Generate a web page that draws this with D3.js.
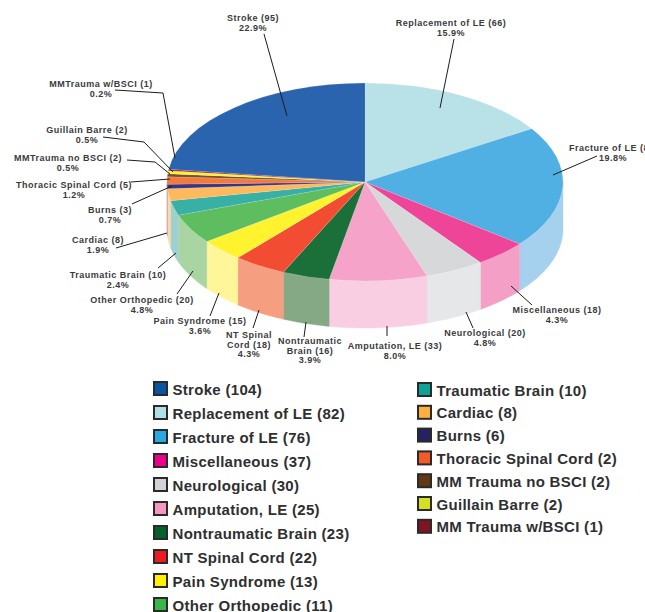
<!DOCTYPE html>
<html>

<head>
    <meta charset="utf-8">
    <style>
        body {
            margin: 0;
            background: #fff;
        }

        svg {
            display: block;
        }

        .slice-label {
            font: bold 9px "Liberation Sans", Arial, sans-serif;
            letter-spacing: .5px;
            fill: #3a3a3c;
            text-anchor: middle;
        }

        .legend-label {
            font: bold 15px "Liberation Sans", Arial, sans-serif;
            letter-spacing: .3px;
            fill: #2f2f31;
        }

        .leader {
            fill: none;
            stroke: #1c1c1c;
            stroke-width: 1px;
        }
    </style>
    <script src="https://d3js.org/d3.v7.min.js"></script>
    <title>Pie chart</title>
</head>

<body>
    <svg id="pie" width="645" height="612"></svg>
    <script>
        // slices, clockwise from 12 o'clock
        var sliceNames = ["Replacement of LE", "Fracture of LE", "Miscellaneous", "Neurological", "Amputation, LE",
            "Nontraumatic Brain", "NT Spinal Cord", "Pain Syndrome", "Other Orthopedic", "Traumatic Brain", "Cardiac",
            "Burns", "Thoracic Spinal Cord", "MMTrauma no BSCI", "Guillain Barre", "MMTrauma w/BSCI", "Stroke"];
        var sliceValues = [66, 82, 18, 20, 33, 16, 18, 15, 20, 10, 8, 3, 5, 2, 2, 1, 95];
        var slicePercents = ["15.9%", "19.8%", "4.3%", "4.8%", "8.0%", "3.9%", "4.3%", "3.6%", "4.8%", "2.4%", "1.9%",
            "0.7%", "1.2%", "0.5%", "0.5%", "0.2%", "22.9%"];
        var topColors = ["#b9e2e8", "#50b0e3", "#ee4599", "#d7d8da", "#f5a3c8", "#1a7038", "#f24c32", "#fff22e",
            "#5dbd5f", "#38b0a5", "#fdb95c", "#3a3480", "#f37a3e", "#7a4f24", "#fff22e", "#a6243a", "#2b64ae"];
        var wallColors = ["#d5eef2", "#a6d1ee", "#f49fc6", "#e6e7e9", "#f9cde2", "#84a984", "#f59e80", "#fff69a",
            "#a9d5a2", "#9fd0d0", "#fdd9a8", "#9b98c0", "#f9bc9e", "#bca790", "#fff69a", "#d2919c", "#95b1d6"];

        var legendLeftNames = ["Stroke (104)", "Replacement of LE (82)", "Fracture of LE (76)", "Miscellaneous (37)",
            "Neurological (30)", "Amputation, LE (25)", "Nontraumatic Brain (23)", "NT Spinal Cord (22)",
            "Pain Syndrome (13)", "Other Orthopedic (11)"];
        var legendLeftColors = ["#0a55a3", "#aedfe4", "#27aae1", "#ec008c", "#d1d3d4", "#f498c0", "#04602c", "#ed1c24",
            "#fff200", "#39b54a"];
        var legendRightNames = ["Traumatic Brain (10)", "Cardiac (8)", "Burns (6)", "Thoracic Spinal Cord (2)",
            "MM Trauma no BSCI (2)", "Guillain Barre (2)", "MM Trauma w/BSCI (1)"];
        var legendRightColors = ["#0fa294", "#fbb040", "#262262", "#f15a29", "#603913", "#d7df23", "#7f1425"];

        // label placement: text centre, baselines and leader line points, same order as the slices
        var labelLines = [
            ["Replacement of LE (66)"], ["Fracture of LE (82)"], ["Miscellaneous (18)"], ["Neurological (20)"],
            ["Amputation, LE (33)"], ["Nontraumatic", "Brain (16)"], ["NT Spinal", "Cord (18)"], ["Pain Syndrome (15)"],
            ["Other Orthopedic (20)"], ["Traumatic Brain (10)"], ["Cardiac (8)"], ["Burns (3)"],
            ["Thoracic Spinal Cord (5)"], ["MMTrauma no BSCI (2)"], ["Guillain Barre (2)"], ["MMTrauma w/BSCI (1)"],
            ["Stroke (95)"]
        ];
        var labelSpots = [
            { x: 451, y: 26, line: [[454, 39], [440, 108]] },
            { x: 613, y: 151, left: 569, line: [[597, 156], [553, 175]] },
            { x: 557, y: 313, line: [[532, 305], [511, 286]] },
            { x: 485, y: 336, line: [[473, 328], [466, 312]] },
            { x: 395, y: 349, line: [[387, 336], [387, 326]] },
            { x: 310, y: 344, line: [[306, 322], [304, 337]] },
            { x: 249, y: 338, line: [[259, 310], [253, 328]] },
            { x: 200, y: 324, line: [[219, 293], [210, 316]] },
            { x: 142, y: 303, line: [[193, 271], [177, 294]] },
            { x: 118, y: 278, line: [[176, 253], [158, 268]] },
            { x: 98, y: 243, line: [[167, 233], [116, 248]] },
            { x: 110, y: 213, line: [[172, 186], [132, 204]] },
            { x: 74, y: 188, line: [[131, 182], [170, 179]] },
            { x: 68, y: 161, line: [[127, 160], [155, 162], [170, 174]] },
            { x: 87, y: 133, line: [[103, 137], [144, 142], [173, 172]] },
            { x: 101, y: 87, line: [[115, 90], [163, 93], [175, 158]] },
            { x: 253, y: 21, line: [[264, 34], [287, 116]] }
        ];

        var cx = 365, cy = 182, rx = 198, ry = 99, depth = 47;

        var svg = d3.select("svg#pie");

        var pie = d3.pie().sort(null).value(function (d) { return d; });
        var arcs = pie(sliceValues);

        // d3 arc angles are clockwise from 12 o'clock
        function rimX(a) { return cx + rx * Math.sin(a); }
        function rimY(a) { return cy - ry * Math.cos(a); }

        function drawWalls() {
            var wall = d3.area()
                .x(function (a) { return rimX(a); })
                .y0(function (a) { return rimY(a); })
                .y1(function (a) { return rimY(a) + depth; });

            var g = svg.append("g");
            arcs.forEach(function (d, i) {
                // only the front half of the rim can be seen
                var a0 = Math.max(d.startAngle, Math.PI / 2),
                    a1 = Math.min(d.endAngle, Math.PI * 1.5);
                if (a1 <= a0) return;
                g.append("path")
                    .attr("d", wall(d3.range(a0, a1, 0.01).concat([a1])))
                    .attr("fill", wallColors[i])
                    .attr("stroke", wallColors[i])
                    .attr("stroke-width", 0.4);
            });
        }

        function drawTop() {
            var arc = d3.arc().innerRadius(0).outerRadius(rx);
            svg.append("g")
                .attr("transform", "translate(" + cx + "," + cy + ") scale(1," + ry / rx + ")")
                .selectAll("path")
                .data(arcs)
                .enter()
                .append("path")
                .attr("d", arc)
                .attr("fill", function (d, i) { return topColors[i]; })
                .attr("stroke", "#fff")
                .attr("stroke-opacity", 0.35)
                .attr("stroke-width", 0.5);
        }

        function drawLabels() {
            var line = d3.line();
            var g = svg.append("g");
            labelSpots.forEach(function (s, i) {
                g.append("path").attr("class", "leader").attr("d", line(s.line));

                var rows = labelLines[i].concat([slicePercents[i]]);
                rows.forEach(function (row, r) {
                    var t = g.append("text")
                        .attr("class", "slice-label")
                        .attr("y", s.y + r * 9.5)
                        .text(row);
                    // the fracture label runs off the right edge, as in the original
                    if (s.left !== undefined && r === 0) {
                        t.attr("x", s.left).style("text-anchor", "start");
                    } else {
                        t.attr("x", s.x);
                    }
                });
            });
        }

        function drawLegend(names, colors, boxX, firstY, stepY) {
            var y = d3.scaleLinear().domain([0, 1]).range([firstY, firstY + stepY]);
            var row = svg.append("g")
                .selectAll("g")
                .data(names)
                .enter()
                .append("g")
                .attr("transform", function (d, i) { return "translate(" + boxX + "," + y(i) + ")"; });

            row.append("rect")
                .attr("x", 1).attr("y", -7)
                .attr("width", 13).attr("height", 13)
                .attr("fill", function (d, i) { return colors[i]; })
                .attr("stroke", "#2a2a2a")
                .attr("stroke-width", 2);

            row.append("text")
                .attr("class", "legend-label")
                .attr("x", 19.5)
                .attr("y", 5.5)
                .text(function (d) { return d; });
        }

        drawWalls();
        drawTop();
        drawLabels();
        drawLegend(legendLeftNames, legendLeftColors, 153, 389, 24);
        drawLegend(legendRightNames, legendRightColors, 417, 390, 22.8);
    </script>
</body>

</html>
